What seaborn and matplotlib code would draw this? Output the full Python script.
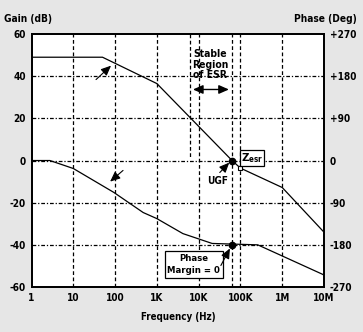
import numpy as np
import pandas as pd
import matplotlib
matplotlib.use("Agg")
import matplotlib.pyplot as plt
import seaborn as sns
from matplotlib import font_manager

# ---- data ----
gain_freq = [1, 50, 1000, 63000, 100000, 1e6, 1e7]
gain_db = [49, 49, 36.5, 0, -3.6, -12.8, -34]
phase_freq = [1, 2.75, 10, 93, 470, 1000, 4200, 21000, 260000, 9.3e6, 1e7]
phase_deg = [0, 0, -17, -68, -111, -124, -156, -177, -180, -243, -245]
x_ticks = [1, 10, 100, 1e3, 1e4, 1e5, 1e6, 1e7]
x_labels = ["1", "10", "100", "1K", "10K", "100K", "1M", "10M"]
gain_ticks = [60, 40, 20, 0, -20, -40, -60]
phase_ticks = [270, 180, 90, 0, -90, -180, -270]
phase_labels = ["+270", "+180", "+90", "0", "-90", "-180", "-270"]

sns.set_theme(style="white")
names = {f.name for f in font_manager.fontManager.ttflist}
FONT = ["Liberation Sans Narrow", "DejaVu Sans"] if "Liberation Sans Narrow" in names else ["DejaVu Sans"]
plt.rcParams["font.family"] = FONT
plt.rcParams["font.stretch"] = "condensed"
plt.rcParams["mathtext.default"] = "regular"

fig = plt.figure(figsize=(3.63, 3.32), dpi=100, facecolor="#e6e6e6")
ax = fig.add_axes([0.0868, 0.1355, 0.8058, 0.762])
ax.set_facecolor("white")
ax2 = ax.twinx()

gdf = pd.DataFrame({"f": gain_freq, "g": gain_db})
pdf = pd.DataFrame({"f": phase_freq, "p": phase_deg})

ax.set_xscale("log")
ax.set_xlim(1, 1e7)
ax.set_ylim(-60, 60)
ax2.set_ylim(-270, 270)

# grid
for t in [40, 20, 0, -20, -40]:
    ax.axhline(t, color="black", lw=0.9, ls=(0, (3, 1.5, 1, 1.5)), zorder=1)
for t in x_ticks[1:-1]:
    ax.axvline(t, color="black", lw=0.9, ls=(0, (3, 2)), zorder=1)
ax.axvline(63000, color="black", lw=0.9, ls=(0, (3, 2)), zorder=1)
ax.plot([6200, 6200], [60, 1.9], color="black", lw=0.9, ls=(0, (3, 2)), zorder=1)

sns.lineplot(data=gdf, x="f", y="g", ax=ax, color="black", lw=0.9, zorder=3)
sns.lineplot(data=pdf, x="f", y="p", ax=ax2, color="black", lw=0.9, zorder=3)

ax.set_xlabel("")
ax.set_ylabel("")
ax2.set_ylabel("")
ax.set_xticks(x_ticks)
ax.set_xticklabels(x_labels)
ax.xaxis.set_minor_locator(matplotlib.ticker.NullLocator())
ax.set_yticks(gain_ticks)
ax.set_yticklabels([str(t) for t in gain_ticks])
ax2.set_yticks(phase_ticks)
ax2.set_yticklabels(phase_labels)
for a in (ax, ax2):
    a.tick_params(length=0, labelsize=7.2, pad=4, labelcolor="black")
    for lab in a.get_xticklabels() + a.get_yticklabels():
        lab.set_fontweight("bold")
        lab.set_family(FONT)
        lab.set_fontstretch("condensed")
        lab.set_color("black")
    for s in a.spines.values():
        s.set_color("black")
        s.set_linewidth(1.3)

# markers
ax.plot([63000], [0], "o", color="black", ms=4.5, zorder=5)
ax.plot([63000], [-40], "o", color="black", ms=4.5, zorder=5)
ax.plot([100000], [-3.6], "s", mfc="white", mec="black", ms=3.5, mew=0.8, zorder=5)

tk = dict(fontweight="bold", family=FONT, fontstretch="condensed", color="black")
ap = dict(arrowstyle="-|>,head_length=0.5,head_width=0.22", color="black", lw=0.8, shrinkA=0, shrinkB=0)

ax.text(18600, 45.5, "Stable\nRegion\nof ESR", ha="center", va="center", fontsize=7.5, linespacing=1.05, zorder=6, **tk)
ax.annotate("", xy=(53000, 33.7), xytext=(7300, 33.7),
            arrowprops=dict(arrowstyle="<|-|>,head_length=0.5,head_width=0.22", color="black", lw=1.0, shrinkA=0, shrinkB=0))

ax.text(29000, -9.5, "UGF", ha="center", va="center", fontsize=7.2, **tk)
ax.annotate("", xy=(54000, -1), xytext=(32000, -5.7), arrowprops=ap)

ax.text(187000, 1, "Z$_{esr}$", ha="center", va="center", fontsize=8.2, zorder=6,
        bbox=dict(boxstyle="square,pad=0.1", fc="white", ec="black", lw=0.9), **tk)

ax.text(7700, -49.3, "Phase\nMargin = 0", ha="center", va="center", fontsize=6.8, linespacing=1.4, zorder=6,
        bbox=dict(boxstyle="square,pad=0.3", fc="white", ec="black", lw=0.9), **tk)
ax.annotate("", xy=(56000, -41.7), xytext=(34000, -49.8), arrowprops=ap, zorder=7)

ax.annotate("", xy=(80, 45), xytext=(35, 38.4), arrowprops=ap)
ax.annotate("", xy=(76, -10), xytext=(155, -4.7), arrowprops=ap)

fig.text(4 / 363, 1 - 19 / 332, "Gain (dB)", ha="left", va="center", fontsize=7.3, **tk)
fig.text(357 / 363, 1 - 19 / 332, "Phase (Deg)", ha="right", va="center", fontsize=7.3, **tk)
fig.text(178 / 363, 1 - 317 / 332, "Frequency (Hz)", ha="center", va="center", fontsize=7, **tk)

fig.savefig("out.png", dpi=100, facecolor=fig.get_facecolor())
